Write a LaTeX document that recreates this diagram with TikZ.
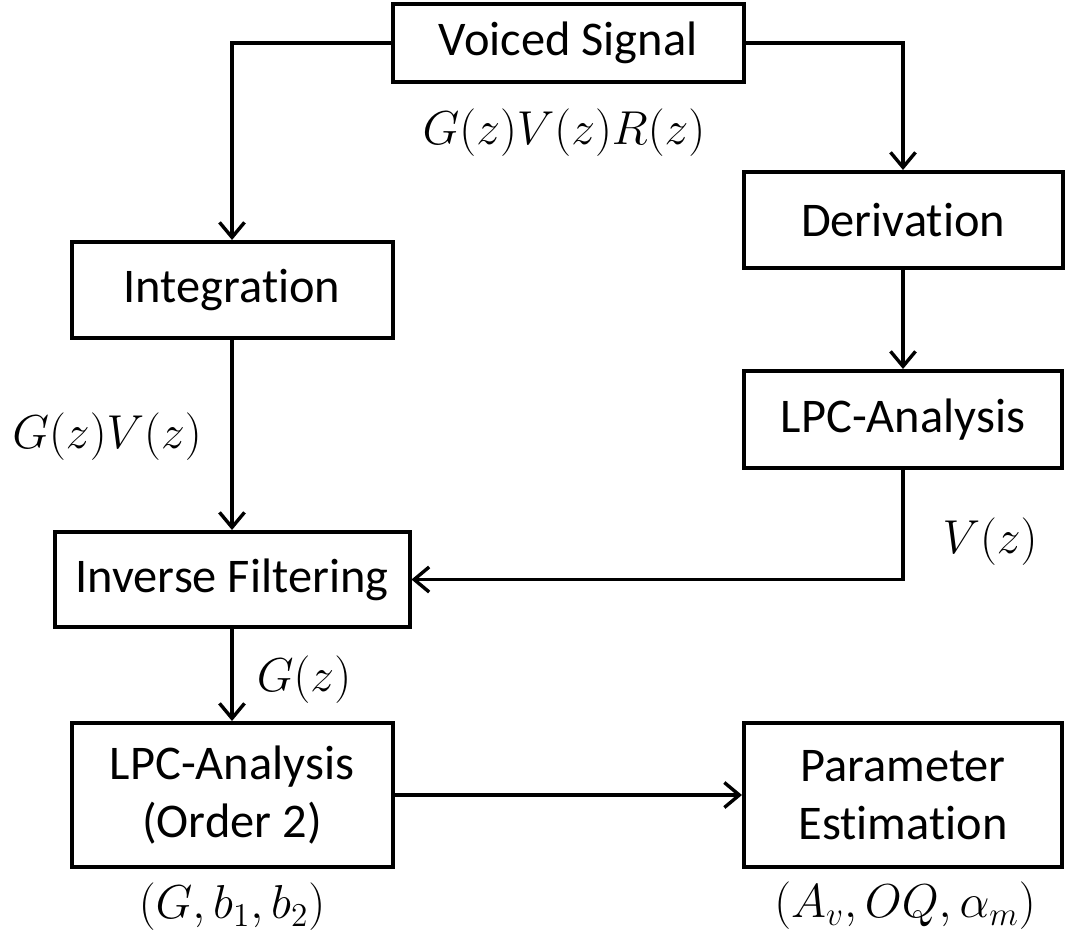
\RequirePackage{fix-cm}
\documentclass[tikz,border=0pt]{standalone}
\usepackage{fontspec}
\setmainfont{Carlito}[Ligatures={NoCommon,NoContextual}]
\usetikzlibrary{arrows.meta}
\begin{document}
\begin{tikzpicture}[x=0.5pt,y=-0.5pt,
  blk/.style args={#1/#2}{draw, line width=2pt, minimum width=#1*0.5pt,
    minimum height=#2*0.5pt, inner sep=0pt, align=center,
    font=\fontsize{24.2}{29}\selectfont},
  lbl/.style={inner sep=0pt, font=\fontsize{23.8}{28}\selectfont},
  conn/.style={line width=1.7pt, -{Straight Barb[length=7.5pt,width=12.5pt]}}]
\useasboundingbox (0,0) rectangle (1065,942);
% blocks
\node[blk=351/78] (vs) at (568,43) {Voiced Signal};
\node[blk=319/96] (der) at (903,220) {Derivation};
\node[blk=321/96] (integ) at (232,290) {Integration};
\node[blk=318/97] (lpca) at (903,419.5) {LPC-Analysis};
\node[blk=355/95] (inv) at (232,579.5) {Inverse Filtering};
\node[blk=321/144] (lpcb) at (232,795) {LPC-Analysis\\(Order 2)};
\node[blk=318/144] (par) at (903,795) {Parameter\\Estimation};
% labels
\node[lbl] (l1) at (564,133) {$G(z)V(z)R(z)$};
\node[lbl] (l2) at (107,437) {$G(z)V(z)$};
\node[lbl] (l3) at (990,542) {$V(z)$};
\node[lbl] (l4) at (304,680) {$G(z)$};
\node[lbl] (l5) at (232,907) {$(G, b_1, b_2)$};
\node[lbl] (l6) at (905,906) {$(A_v, OQ, \alpha_m)$};
% connectors
\draw[conn] (vs.west) -| (integ.north);
\draw[conn] (vs.east) -| (der.north);
\draw[conn] (der.south) -- (lpca.north);
\draw[conn] (integ.south) -- (inv.north);
\draw[conn] (lpca.south) |- (inv.east);
\draw[conn] (inv.south) -- (lpcb.north);
\draw[conn] (lpcb.east) -- (par.west);
\end{tikzpicture}
\end{document}
